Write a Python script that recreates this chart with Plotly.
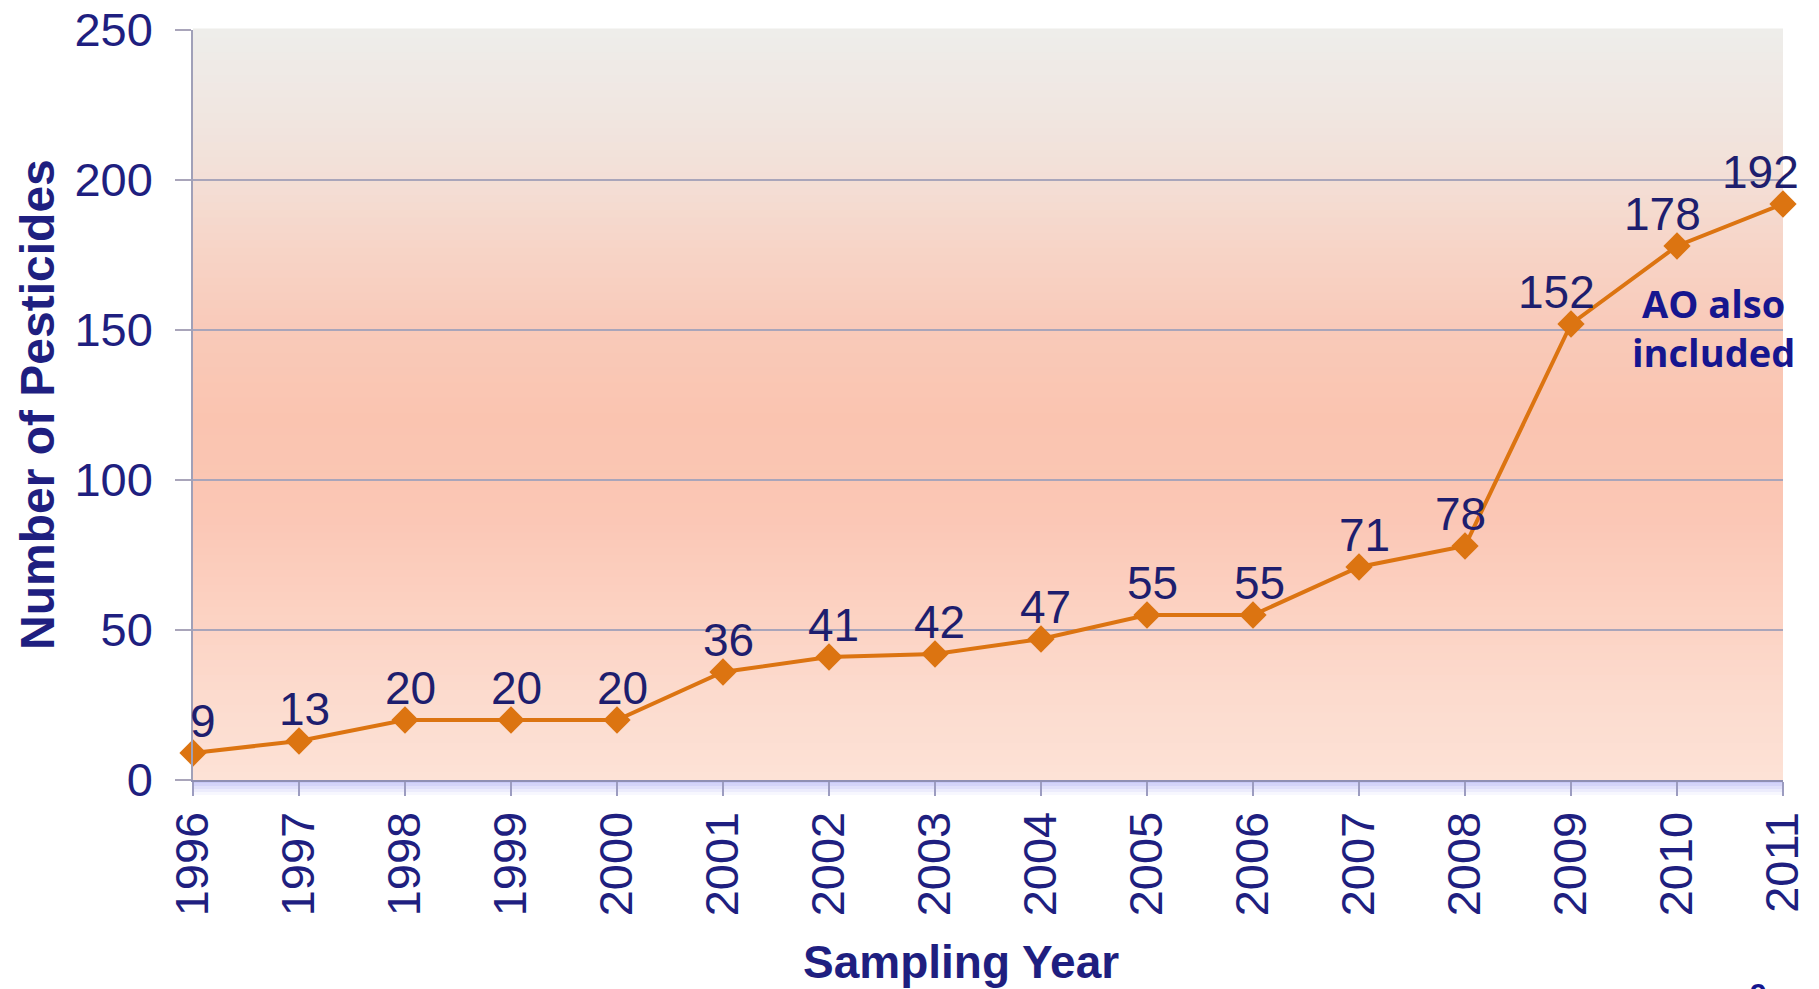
import plotly.graph_objects as go

# ---- data ----
years = [1996, 1997, 1998, 1999, 2000, 2001, 2002, 2003,
         2004, 2005, 2006, 2007, 2008, 2009, 2010, 2011]
pesticides = [9, 13, 20, 20, 20, 36, 41, 42, 47, 55, 55, 71, 78, 152, 178, 192]
y_ticks = [0, 50, 100, 150, 200, 250]
y_title = "Number of Pesticides"
x_title = "Sampling Year"
note_text = "AO also<br>included"
page_number = "9"

# horizontal nudges (px) for the value labels, so they clear the line
label_dx = [10, 5, 5, 5, 5, 5, 4, 4, 4, 5, 6, 5, -5, -15, -15, -23]

# ---- styling ----
NAVY = "#1F1F80"
LABEL_NAVY = "#1E1E6E"
NOTE_BLUE = "#16168F"
ORANGE = "#DC7411"
GRID = "#A9A5BA"
SANS = "Liberation Sans, Arial, sans-serif"

# vertical colour stops for the plot-area background (0 = bottom, 1 = top)
bg_stops = [
    (0.00, (253, 226, 214)),
    (0.11, (252, 219, 206)),
    (0.21, (252, 211, 196)),
    (0.35, (251, 199, 181)),
    (0.48, (250, 196, 176)),
    (0.60, (249, 202, 185)),
    (0.71, (247, 212, 199)),
    (0.80, (243, 223, 214)),
    (0.90, (240, 231, 226)),
    (1.00, (238, 237, 234)),
]


def blend(t):
    for (t0, c0), (t1, c1) in zip(bg_stops[:-1], bg_stops[1:]):
        if t0 <= t <= t1:
            f = (t - t0) / (t1 - t0) if t1 > t0 else 0
            return "rgb(%d,%d,%d)" % tuple(round(a + (b - a) * f) for a, b in zip(c0, c1))
    return "rgb(%d,%d,%d)" % bg_stops[-1][1]


shapes = []
n_bands = 100
for i in range(n_bands):
    y0 = i / n_bands
    y1 = (i + 1) / n_bands
    shapes.append(dict(
        type="rect", xref="paper", yref="paper", layer="below",
        x0=0, x1=1, y0=y0, y1=y1 + 0.002,
        fillcolor=blend((y0 + y1) / 2), line=dict(width=0),
    ))

# soft lavender floor under the category axis
floor = [(200, 200, 246), (212, 212, 248), (224, 224, 250), (236, 236, 252), (247, 247, 254)]
band_h = 0.004
for k, c in enumerate(floor):
    shapes.append(dict(
        type="rect", xref="paper", yref="paper", layer="below",
        x0=0, x1=1, y0=-(k + 1) * band_h, y1=-k * band_h,
        fillcolor="rgb(%d,%d,%d)" % c, line=dict(width=0),
    ))

fig = go.Figure()
fig.add_trace(go.Scatter(
    x=years, y=pesticides,
    mode="lines+markers",
    line=dict(color=ORANGE, width=4),
    marker=dict(symbol="diamond", size=21, color=ORANGE),
    cliponaxis=False,
    showlegend=False,
    hoverinfo="x+y",
))

annotations = []
# value labels above each point
for yr, v, dx in zip(years, pesticides, label_dx):
    annotations.append(dict(
        x=yr, y=v, xref="x", yref="y", text=str(v), showarrow=False,
        xanchor="center", yanchor="middle", yshift=32, xshift=dx,
        font=dict(family=SANS, size=46, color=LABEL_NAVY),
    ))

annotations += [
    dict(text=y_title, xref="paper", yref="paper", x=-0.0981, y=0.5,
         xanchor="center", yanchor="middle", textangle=-90, showarrow=False,
         font=dict(family=SANS, size=48, color=NAVY, weight="bold")),
    dict(text=x_title, xref="paper", yref="paper", x=0.483, y=-0.243,
         xanchor="center", yanchor="middle", showarrow=False,
         font=dict(family=SANS, size=46, color=NAVY, weight="bold")),
    dict(text=note_text, xref="paper", yref="paper", x=0.9566, y=0.603,
         xanchor="center", yanchor="middle", showarrow=False, align="center",
         font=dict(family="Open Sans, sans-serif", size=38, color=NOTE_BLUE, weight="bold")),
    dict(text=page_number, xref="paper", yref="paper", x=0.9846, y=-0.260,
         xanchor="center", yanchor="top", showarrow=False,
         font=dict(family=SANS, size=30, color=NOTE_BLUE, weight="bold")),
]

fig.update_layout(
    width=1819, height=989,
    margin=dict(l=193, r=36, t=30, b=209),
    paper_bgcolor="white",
    plot_bgcolor="rgba(0,0,0,0)",
    shapes=shapes,
    annotations=annotations,
    xaxis=dict(
        range=[years[0], years[-1]],
        tickvals=years, ticktext=[str(y) for y in years],
        tickangle=-90,
        tickfont=dict(family=SANS, size=47, color=NAVY),
        ticks="outside", ticklen=14, tickwidth=1.5, tickcolor="#9C9CC0",
        ticklabelstandoff=-3,
        showgrid=False, zeroline=False, automargin=False,
        showline=True, linecolor="#8F8FB2", linewidth=2,
    ),
    yaxis=dict(
        range=[0, 250],
        tickvals=y_ticks,
        tickfont=dict(family=SANS, size=47, color=NAVY),
        ticks="outside", ticklen=16, tickwidth=2, tickcolor=GRID,
        ticklabelstandoff=13,
        showgrid=True, gridcolor=GRID, gridwidth=2,
        zeroline=False, automargin=False,
        showline=True, linecolor="#A0A0B8", linewidth=1.5,
    ),
)

fig.write_html("out.html")
